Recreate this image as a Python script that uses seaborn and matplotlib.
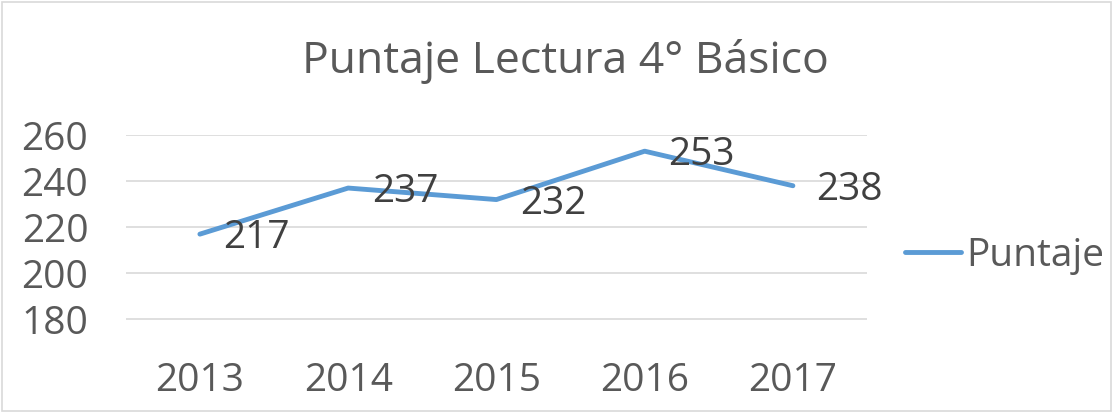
import numpy as np
import pandas as pd
import matplotlib
matplotlib.use('Agg')
import matplotlib.pyplot as plt
import seaborn as sns

# Chart data
years = ['2013', '2014', '2015', '2016', '2017']
puntaje = [217, 237, 232, 253, 238]
y_ticks = [180, 200, 220, 240, 260]

df = pd.DataFrame({'Año': years, 'Puntaje': puntaje})

sns.set_style('white')
plt.rcParams['font.family'] = ['Open Sans', 'DejaVu Sans']
tick_color = '#595959'
label_color = '#404040'
line_color = '#5B9BD5'

fig = plt.figure(figsize=(11.13, 4.13), dpi=100)
ax = fig.add_axes([0.113, 0.225, 0.666, 0.448])

x = np.arange(len(years))
sns.lineplot(x=x, y='Puntaje', data=df, ax=ax, color=line_color,
             linewidth=3.5, label='Puntaje')

# Data labels to the right of each point
for xi, v in zip(x, puntaje):
    ax.annotate(str(v), (xi, v), xytext=(17, -3), textcoords='offset points',
                ha='left', va='center', fontsize=28, color=label_color)

ax.set_xlim(-0.5, len(years) - 0.5)
ax.set_ylim(179.7, 260)
ax.set_yticks(y_ticks)
ax.set_xticks(x)
ax.set_xticklabels(years)
ax.tick_params(axis='both', length=0, labelsize=28, colors=tick_color)
ax.tick_params(axis='x', pad=30)
ax.tick_params(axis='y', pad=27)
ax.yaxis.grid(True, color='#D9D9D9', linewidth=1.2)
for s in ax.spines.values():
    s.set_visible(False)
ax.set_xlabel('')
ax.set_ylabel('')

fig.text(0.508, 0.85, 'Puntaje Lectura 4° Básico', ha='center', va='center',
         fontsize=32, color=tick_color)

ax.legend(loc='center left', bbox_to_anchor=(1.051, 0.346), frameon=False,
          fontsize=28, labelcolor=tick_color, handlelength=1.44,
          handletextpad=0.15, borderaxespad=0, borderpad=0)

# Light border around the chart area
fig.patches.append(plt.Rectangle((0.002, 0.004), 0.996, 0.992, transform=fig.transFigure,
                                 fill=False, edgecolor='#D9D9D9', linewidth=1.2))

plt.savefig('out.png', dpi=100)
